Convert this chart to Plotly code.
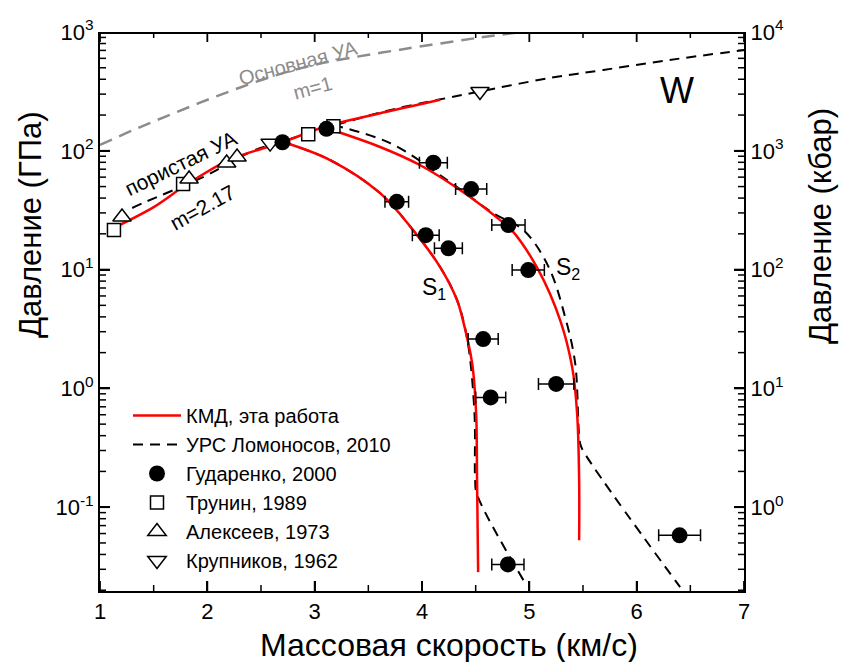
import math
import plotly.graph_objects as go

# --- porous Hugoniot and release isentropes: KMD model (this work) ---
kmd_hug_u = [1.13, 1.5, 1.8, 2.2, 2.7, 3.1, 3.7, 4.17]
kmd_hug_p = [22.5, 33.6, 51.5, 83.6, 118, 160, 216, 269]
kmd_s1_u = [2.705, 3.144, 3.61, 3.917, 4.169, 4.327, 4.374, 4.467, 4.504, 4.513, 4.523]
kmd_s1_p = [118.6, 83.6, 44.0, 21.5, 10.5, 5.53, 3.98, 1.63, 0.62, 0.169, 0.0284]
kmd_s2_u = [3.106, 3.61, 3.98, 4.355, 4.728, 4.836, 5.085, 5.287, 5.399, 5.445, 5.464, 5.464]
kmd_s2_p = [155.5, 107.7, 75.9, 46.7, 26.1, 21.5, 9.9, 3.76, 1.51, 0.62, 0.169, 0.0527]

# --- wide-range EOS (Lomonosov, 2010) ---
eos_hug_u = [1.3, 1.42, 1.96, 2.4, 2.7, 3.2, 3.7, 4.23, 4.54, 5.19, 5.69, 6.3, 7.0]
eos_hug_p = [33, 37, 60, 97.6, 120, 165, 220, 278, 316, 410, 479, 580, 705]
eos_s1_u = [2.705, 3.144, 3.61, 3.917, 4.169, 4.327, 4.423, 4.489, 4.495, 4.51, 4.945]
eos_s1_p = [118.6, 83.6, 44.0, 21.5, 10.5, 5.53, 2.55, 0.615, 0.169, 0.130, 0.0243]
eos_s2_u = [3.17, 3.703, 4.234, 4.663, 4.945, 5.178, 5.333, 5.427, 5.473, 5.50, 6.405]
eos_s2_p = [165, 116, 56.8, 29.9, 21.5, 10.6, 4.0, 1.63, 0.346, 0.30, 0.0212]

# --- principal Hugoniot of solid tungsten (m=1) ---
main_hug_u = [1.0, 1.31, 1.622, 1.932, 2.242, 2.553, 2.864, 3.17, 3.796, 4.51, 4.94]
main_hug_p = [112, 149.6, 196, 254, 325, 408, 494, 570, 710, 890, 1005]

# --- experiments ---
gud_u = [3.765, 4.035, 4.246, 4.106, 4.458, 4.805, 4.99, 4.57, 4.64, 5.25, 4.80, 6.40]
gud_p = [37.2, 19.5, 15.1, 79.4, 47.6, 23.7, 9.9, 2.6, 0.84, 1.09, 0.033, 0.058]
gud_du = [0.11, 0.125, 0.13, 0.13, 0.145, 0.155, 0.15, 0.14, 0.14, 0.165, 0.15, 0.195]
gud_hug_u = [2.70, 3.11]
gud_hug_p = [118, 153]
trunin_u = [1.13, 1.774, 2.94, 3.175]
trunin_p = [21.5, 52.5, 138, 161]
alekseev_u = [1.205, 1.83, 2.18, 2.277]
alekseev_p = [27.7, 57.8, 78.9, 88.5]
krupnikov_u = [2.585, 4.54]
krupnikov_p = [116, 316]

# --- axis ticks ---
x_major = [1, 2, 3, 4, 5, 6, 7]
x_minor = [1.5, 2.5, 3.5, 4.5, 5.5, 6.5]
y_exps = [-1, 0, 1, 2, 3]
y2_exps = [0, 1, 2, 3, 4]

GPA_TO_KBAR = 10.0
ymin_gpa = 0.0197
ymax_gpa = 1000.0
xmin_u, xmax_u = 1.0, 7.0
FONT = "Liberation Sans"

# plot-area geometry in pixels
W, H = 842, 662
L, R, T, B = 100, 744, 32, 591
PW, PH = R - L, B - T
lo, hi = math.log10(ymin_gpa), math.log10(ymax_gpa)
U_PER_PX = (xmax_u - xmin_u) / PW
DEC_PER_PX = (hi - lo) / PH


def paper_xy(px, py):
    return (px - L) / PW, (B - py) / PH


def joined(*pairs):
    xs, ys = [], []
    for u, p in pairs:
        if xs:
            xs.append(None)
            ys.append(None)
        xs += list(u)
        ys += list(p)
    return xs, ys


fig = go.Figure()

fig.add_trace(go.Scatter(
    x=main_hug_u, y=main_hug_p, mode="lines", line_shape="spline",
    line=dict(color="#8c8c8c", width=2.5, dash="13px,8px"),
    showlegend=False, hoverinfo="skip"))

ex, ey = joined((eos_hug_u, eos_hug_p), (eos_s1_u, eos_s1_p), (eos_s2_u, eos_s2_p))
fig.add_trace(go.Scatter(
    x=ex, y=ey, mode="lines", line_shape="spline",
    line=dict(color="black", width=2, dash="10px,7px"),
    name="УРС Ломоносов, 2010", legendrank=2))

kx, ky = joined((kmd_hug_u, kmd_hug_p), (kmd_s1_u, kmd_s1_p), (kmd_s2_u, kmd_s2_p))
fig.add_trace(go.Scatter(
    x=kx, y=ky, mode="lines", line_shape="spline",
    line=dict(color="#ff0000", width=2.5),
    name="КМД, эта работа", legendrank=1))

fig.add_trace(go.Scatter(
    x=trunin_u, y=trunin_p, mode="markers",
    marker=dict(symbol="square", color="white", size=13,
                line=dict(color="black", width=1.5)),
    name="Трунин, 1989", legendrank=4))
fig.add_trace(go.Scatter(
    x=alekseev_u, y=alekseev_p, mode="markers",
    marker=dict(symbol="triangle-up", color="white", size=16,
                line=dict(color="black", width=1.5)),
    name="Алексеев, 1973", legendrank=5))
fig.add_trace(go.Scatter(
    x=krupnikov_u, y=krupnikov_p, mode="markers",
    marker=dict(symbol="triangle-down", color="white", size=16,
                line=dict(color="black", width=1.5)),
    name="Крупников, 1962", legendrank=6))

fig.add_trace(go.Scatter(
    x=gud_u, y=gud_p, mode="markers",
    marker=dict(symbol="circle", color="black", size=16),
    error_x=dict(type="data", array=gud_du, color="black", thickness=1.5, width=6),
    name="Гударенко, 2000", legendrank=3, legendgroup="gud"))
fig.add_trace(go.Scatter(
    x=gud_hug_u, y=gud_hug_p, mode="markers",
    marker=dict(symbol="circle", color="black", size=16),
    showlegend=False, legendgroup="gud"))


# inward tick marks on all four sides plus the top border, built from the axis values
def tick_segments(length_px, xs=(), ys_log=()):
    dx = length_px * U_PER_PX
    dy = length_px * DEC_PER_PX
    tx, ty = [], []
    for v in xs:
        tx += [v, v, None, v, v, None]
        ty += [10 ** lo, 10 ** (lo + dy), None, 10 ** hi, 10 ** (hi - dy), None]
    for e in ys_log:
        tx += [xmin_u, xmin_u + dx, None, xmax_u, xmax_u - dx, None]
        ty += [10 ** e, 10 ** e, None, 10 ** e, 10 ** e, None]
    return tx, ty


y_minor_log = [e + math.log10(m) for e in range(min(y_exps) - 1, max(y_exps))
               for m in range(2, 10)]
y_minor_log = [v for v in y_minor_log if lo <= v <= hi]

for xs, ys, ln, wd in ((x_major, y_exps, 10, 1.8), (x_minor, y_minor_log, 6, 1.5)):
    tx, ty = tick_segments(ln, xs, ys)
    fig.add_trace(go.Scatter(x=tx, y=ty, mode="lines", line=dict(color="black", width=wd),
                             showlegend=False, hoverinfo="skip"))
fig.add_trace(go.Scatter(x=[xmin_u, xmax_u], y=[ymax_gpa, ymax_gpa], mode="lines",
                         line=dict(color="black", width=4),
                         showlegend=False, hoverinfo="skip"))

# invisible companion trace carrying the kbar axis
fig.add_trace(go.Scatter(
    x=main_hug_u, y=[p * GPA_TO_KBAR for p in main_hug_p], yaxis="y2",
    mode="markers", marker=dict(opacity=0), showlegend=False, hoverinfo="skip"))

axis_common = dict(showline=True, linecolor="black", linewidth=2,
                   ticks="inside", ticklen=10, tickwidth=1.8, tickcolor="black",
                   showgrid=False, zeroline=False,
                   tickfont=dict(family=FONT, size=22, color="black"))

lx, ly = paper_xy(128, 396)

fig.update_layout(
    width=W, height=H,
    margin=dict(l=L, r=W - R, t=T, b=H - B),
    paper_bgcolor="white", plot_bgcolor="white",
    font=dict(family=FONT, color="black"),
    xaxis=dict(range=[xmin_u, xmax_u], tickmode="array", tickvals=x_major, **axis_common),
    yaxis=dict(type="log", range=[lo, hi], tickmode="array",
               tickvals=[10.0 ** e for e in y_exps],
               ticktext=["10<sup>%d</sup>" % e for e in y_exps], **axis_common),
    yaxis2=dict(type="log", overlaying="y", side="right", range=[lo + 1, hi + 1],
                tickmode="array", tickvals=[10.0 ** e for e in y2_exps],
                ticktext=["10<sup>%d</sup>" % e for e in y2_exps], **axis_common),
    legend=dict(x=lx, y=ly, xanchor="left", yanchor="top",
                bgcolor="rgba(0,0,0,0)", borderwidth=0,
                font=dict(family=FONT, size=20, color="black"),
                itemwidth=48, tracegroupgap=0),
    showlegend=True,
)

# axis titles
titles = [
    (30, 225, "Давление (ГПа)", -90, 31),
    (820, 226, "Давление (кбар)", -90, 31),
    (449, 645, "Массовая скорость (км/с)", 0, 32),
]
for px, py, text, ang, size in titles:
    xp, yp = paper_xy(px, py)
    fig.add_annotation(x=xp, y=yp, xref="paper", yref="paper", text=text,
                       textangle=ang, showarrow=False, xanchor="center", yanchor="middle",
                       font=dict(family=FONT, size=size, color="black"))

# curve labels in data coordinates
labels = [
    (2.845, 10 ** 2.739, "Основная УА", "#8c8c8c", 20, -15),
    (2.976, 10 ** 2.528, "m=1", "#8c8c8c", 20, -15),
    (1.746, 10 ** 1.897, "пористая УА", "black", 21, -26),
    (1.951, 10 ** 1.526, "m=2.17", "black", 21, -29),
    (6.38, 10 ** 2.51, "W", "black", 36, 0),
    (4.113, 10 ** 0.844, "S<sub>1</sub>", "black", 23, 0),
    (5.36, 10 ** 1.013, "S<sub>2</sub>", "black", 23, 0),
]
for x, y, t, c, s, ang in labels:
    fig.add_annotation(x=x, y=math.log10(y), xref="x", yref="y", text=t,
                       showarrow=False, textangle=ang,
                       font=dict(family=FONT, size=s, color=c))

fig.write_html("out.html")
